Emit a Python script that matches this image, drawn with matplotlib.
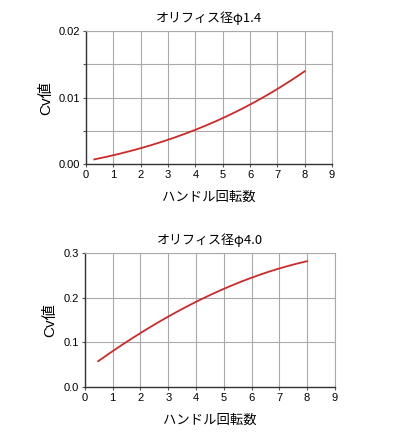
import matplotlib
matplotlib.use("Agg")
import matplotlib.pyplot as plt
import numpy as np

plt.rcParams['font.family'] = ['Noto Sans CJK JP', 'DejaVu Sans']

# Top chart: orifice 1.4
x1 = [0.3, 1, 2, 3, 4, 5, 6, 7, 8]
y1 = [0.00075, 0.0013, 0.00235, 0.00365, 0.00525, 0.00695, 0.0089, 0.01125, 0.0140]
title1 = "オリフィス径φ1.4"
yticks1 = [0.00, 0.01, 0.02]
yticklabels1 = ["0.00", "0.01", "0.02"]

# Bottom chart: orifice 4.0
x2 = [0.48, 1, 2, 3, 4, 5, 6, 7, 8]
y2 = [0.0575, 0.0806, 0.1216, 0.157, 0.190, 0.220, 0.244, 0.266, 0.281]
title2 = "オリフィス径φ4.0"
yticks2 = [0.0, 0.1, 0.2, 0.3]
yticklabels2 = ["0.0", "0.1", "0.2", "0.3"]

xticks = list(range(0, 10))
xlabel = "ハンドル回転数"
ylabel = "Cv値"

fig = plt.figure(figsize=(4.16, 4.33), dpi=100)
ax1 = fig.add_axes([0.207, 0.621, 0.591, 0.307])
ax2 = fig.add_axes([0.204, 0.106, 0.601, 0.310])

def smooth(x, y):
    xs = np.linspace(x[0], x[-1], 200)
    c = np.polyfit(x, y, 3)
    return xs, np.polyval(c, xs)

for ax, x, y, title, yt, ytl, ymax, minor in [
    (ax1, x1, y1, title1, yticks1, yticklabels1, 0.02, [0.005, 0.015]),
    (ax2, x2, y2, title2, yticks2, yticklabels2, 0.3, []),
]:
    xs, ys = smooth(x, y)
    ax.plot(xs, ys, color='#cc2a2a', lw=1.3, zorder=3)
    ax.set_xlim(0, 9)
    ax.set_ylim(0, ymax)
    ax.set_xticks(xticks)
    ax.set_xticklabels([str(v) for v in xticks], family=['Liberation Sans'], fontsize=8)
    ax.set_yticks(yt)
    ax.set_yticklabels(ytl, family=['Liberation Sans'], fontsize=8)
    if minor:
        ax.set_yticks(minor, minor=True)
    ax.grid(True, which='both', color='#aaaaaa', lw=0.8)
    ax.tick_params(which='both', direction='out', length=2.5, width=0.8, color='#555555', pad=2)
    ax.tick_params(which='minor', labelleft=False)
    for s in ['top', 'right']:
        ax.spines[s].set_color('#aaaaaa')
        ax.spines[s].set_linewidth(0.8)
    for s in ['left', 'bottom']:
        ax.spines[s].set_color('#333333')
        ax.spines[s].set_linewidth(1.0)
    ax.set_title(title, fontsize=9.4, pad=6.5)
    ax.set_xlabel(xlabel, fontsize=9.6, labelpad=7)
    ax.set_ylabel(ylabel, fontsize=11, labelpad=4,
                  family=['Liberation Sans', 'Noto Sans CJK JP'])

fig.savefig("out.png", dpi=100, facecolor='white')
